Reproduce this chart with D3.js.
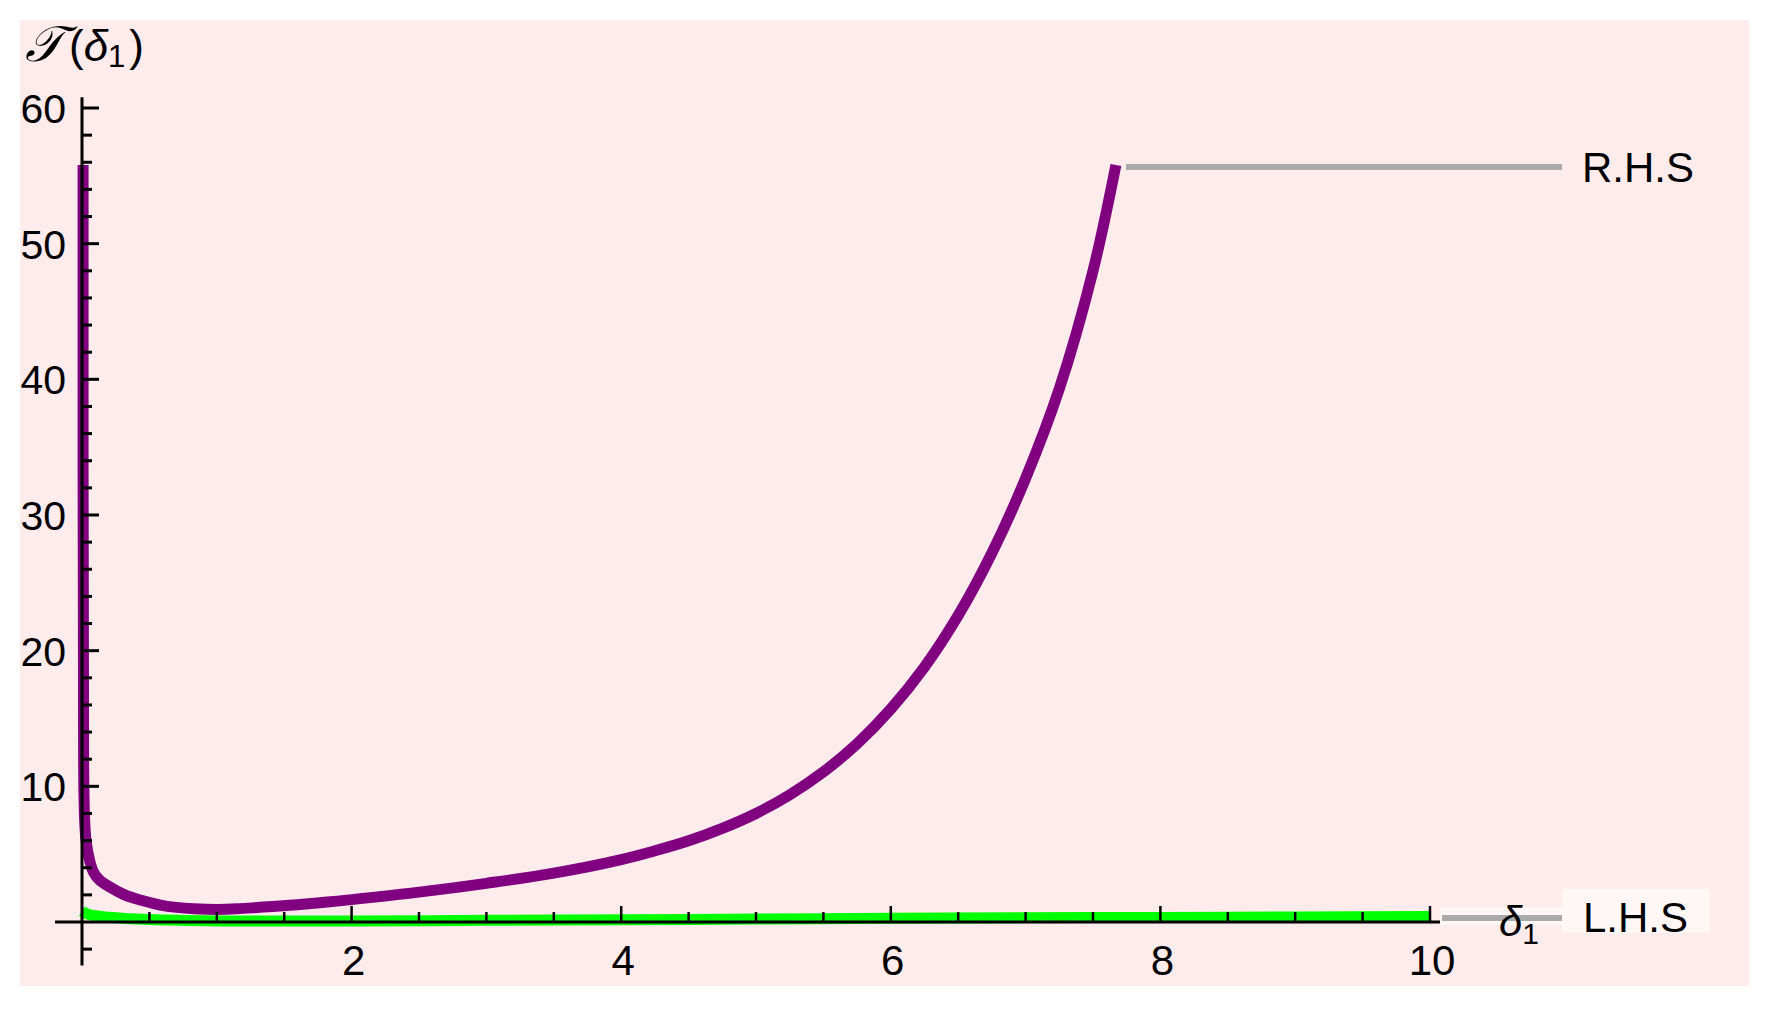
<!DOCTYPE html>
<html>
<head>
<meta charset="utf-8">
<script src="https://cdn.jsdelivr.net/npm/d3@7"></script>
<style>
  html, body { margin: 0; padding: 0; background: #ffffff; }
  svg { display: block; }
  text { font-family: "Liberation Sans", Arial, sans-serif; fill: #000; }
</style>
</head>
<body>
<script>
// ---- data ----
const rhsX = [0.008, 0.012, 0.018, 0.03, 0.06, 0.084, 0.13, 0.21, 0.33, 0.46, 0.58, 0.7, 0.83, 1.0, 1.15, 1.32, 1.57, 1.82, 2.0, 2.5, 3.0, 3.5, 4.0, 4.25, 4.5, 4.75, 5.0, 5.25, 5.5, 5.75, 6.0, 6.25, 6.5, 6.75, 7.0, 7.25, 7.5, 7.67];
const rhsY = [55.8, 12, 8, 6, 4.4, 3.7, 3.1, 2.56, 1.94, 1.55, 1.25, 1.08, 0.98, 0.93, 0.97, 1.08, 1.25, 1.47, 1.65, 2.2, 2.85, 3.6, 4.6, 5.25, 5.99, 6.9, 8.0, 9.37, 11.06, 13.14, 15.7, 18.8, 22.6, 27.2, 32.7, 39.3, 48.0, 55.8];
const lhsX = [0, 0.05, 0.2, 0.5, 1, 2, 3, 4, 5, 6, 7, 8, 9, 10];
const lhsY = [0.8, 0.55, 0.35, 0.18, 0.08, 0.08, 0.12, 0.16, 0.22, 0.27, 0.31, 0.34, 0.37, 0.4];
const xMajorTicks = [2, 4, 6, 8, 10];
const xTickLabels = ["2", "4", "6", "8", "10"];
const xMinorStep = 0.5;
const yMajorTicks = [10, 20, 30, 40, 50, 60];
const yTickLabels = ["10", "20", "30", "40", "50", "60"];
const yMinorStep = 2;
const seriesNames = ["R.H.S", "L.H.S"];
const seriesColors = ["#800080", "#00ff00"];

// ---- layout ----
const W = 1767, H = 1011;
const svg = d3.select("body").append("svg").attr("width", W).attr("height", H);

svg.append("rect").attr("x", 20).attr("y", 20).attr("width", 1729).attr("height", 966).attr("fill", "#feebeb");

const x = d3.scaleLinear().domain([0, 10]).range([82, 1430]);
const y = d3.scaleLinear().domain([0, 60]).range([922, 108]);

// curves
const line = d3.line().x(d => x(d[0])).y(d => y(d[1])).curve(d3.curveCatmullRom.alpha(0.5));
const rhs = rhsX.map((v, i) => [v, rhsY[i]]);
const lhs = lhsX.map((v, i) => [v, lhsY[i]]);

svg.append("path").datum(lhs).attr("d", line).attr("fill", "none")
  .attr("stroke", seriesColors[1]).attr("stroke-width", 11);
svg.append("path").datum(rhs).attr("d", line).attr("fill", "none")
  .attr("stroke", seriesColors[0]).attr("stroke-width", 11);

// axes
const ax = svg.append("g").attr("stroke", "#000");
ax.append("line").attr("x1", x(0)).attr("x2", x(0)).attr("y1", y(60.8)).attr("y2", y(-3.2)).attr("stroke-width", 3);
ax.append("line").attr("x1", x(-0.2)).attr("x2", x(10.2)).attr("y1", y(0)).attr("y2", y(0)).attr("stroke-width", 3);

// y ticks
const yMinor = d3.range(-2, 60.01, yMinorStep).filter(v => !yMajorTicks.includes(v) && v !== 0);
ax.selectAll(".ymin").data(yMinor).enter().append("line")
  .attr("x1", x(0)).attr("x2", x(0) + 10).attr("y1", d => y(d)).attr("y2", d => y(d)).attr("stroke-width", 3);
ax.selectAll(".ymaj").data(yMajorTicks).enter().append("line")
  .attr("x1", x(0)).attr("x2", x(0) + 17).attr("y1", d => y(d)).attr("y2", d => y(d)).attr("stroke-width", 3);

// x ticks
const xMinor = d3.range(xMinorStep, 10.01, xMinorStep).filter(v => !xMajorTicks.includes(v));
ax.selectAll(".xmin").data(xMinor).enter().append("line")
  .attr("x1", d => x(d)).attr("x2", d => x(d)).attr("y1", y(0)).attr("y2", y(0) - 10).attr("stroke-width", 2.5);
ax.selectAll(".xmaj").data(xMajorTicks).enter().append("line")
  .attr("x1", d => x(d)).attr("x2", d => x(d)).attr("y1", y(0)).attr("y2", y(0) - 16).attr("stroke-width", 2.5);

// tick labels
svg.selectAll(".ylab").data(yMajorTicks).enter().append("text")
  .attr("x", 66).attr("y", d => y(d) + 15).attr("text-anchor", "end")
  .attr("font-size", 41).text((d, i) => yTickLabels[i]);
svg.selectAll(".xlab").data(xMajorTicks).enter().append("text")
  .attr("x", d => x(d) + 2).attr("y", 975).attr("text-anchor", "middle")
  .attr("font-size", 42).text((d, i) => xTickLabels[i]);

// y axis title
const yt = svg.append("text").attr("x", 25).attr("y", 61).attr("font-size", 44);
yt.append("tspan").attr("font-family", "DejaVu Serif").attr("font-size", 50).attr("font-style", "italic").text("𝒯");
yt.append("tspan").attr("dx", 6).text("(");
yt.append("tspan").attr("font-style", "italic").text("δ");
yt.append("tspan").attr("font-size", 31).attr("dy", 6).text("1");
yt.append("tspan").attr("dy", -6).attr("dx", 4).text(")");

// legend: RHS
svg.append("line").attr("x1", 1126).attr("x2", 1562).attr("y1", 167).attr("y2", 167)
  .attr("stroke", "#aaaaaa").attr("stroke-width", 6);
svg.append("text").attr("x", 1582).attr("y", 182).attr("font-size", 42).text(seriesNames[0]);

// legend: LHS
svg.append("rect").attr("x", 1440).attr("y", 907).attr("width", 123).attr("height", 18).attr("fill", "#fff7f7");
svg.append("line").attr("x1", 1442).attr("x2", 1563).attr("y1", 918).attr("y2", 918)
  .attr("stroke", "#aaaaaa").attr("stroke-width", 6);
svg.append("rect").attr("x", 1562).attr("y", 889).attr("width", 148).attr("height", 44).attr("fill", "#fff6f6");
svg.append("text").attr("x", 1583).attr("y", 932).attr("font-size", 42).text(seriesNames[1]);

// x axis title
const xt = svg.append("text").attr("x", 1499).attr("y", 936).attr("font-size", 42);
xt.append("tspan").attr("font-style", "italic").text("δ");
xt.append("tspan").attr("font-size", 30).attr("dy", 8).text("1");
</script>
</body>
</html>
